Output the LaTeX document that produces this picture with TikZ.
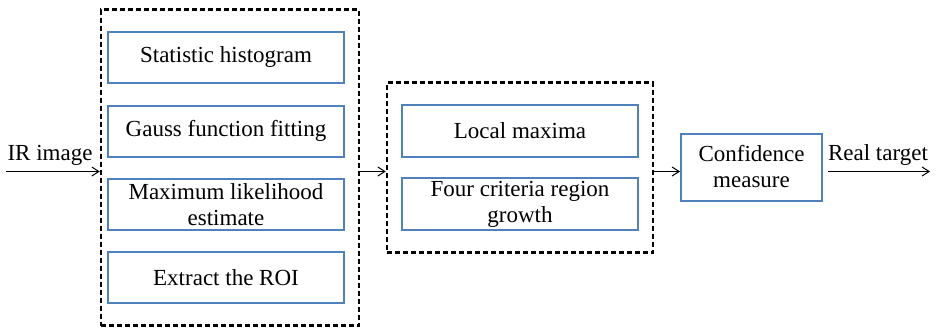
\documentclass[tikz,border=0pt]{standalone}
\usepackage{fontspec}
\setmainfont{Liberation Serif}
\newfontfamily\tms{Liberation Serif}
\usetikzlibrary{arrows.meta}
\definecolor{boxblue}{RGB}{79,129,189}
\begin{document}
\begin{tikzpicture}[x=1pt,y=-1pt,
  bluebox/.style={draw=boxblue,line width=2pt,minimum width=236pt,minimum height=51pt,inner sep=0pt,align=center,font=\tms\fontsize{23}{26}\selectfont},
  dashbox/.style={draw=black,line width=2.5pt,dash pattern=on 5pt off 3pt,inner sep=0pt},
  arr/.style={line width=1pt,-{Straight Barb[length=7pt,width=9pt,line width=1pt]}},
  lbl/.style={font=\tms\fontsize{23}{26}\selectfont,inner sep=0pt,anchor=base}]
\useasboundingbox (0,0) rectangle (937,327);
\node[dashbox,minimum width=258pt,minimum height=316pt] (ld) at (230,167.5) {};
\node[dashbox,minimum width=266pt,minimum height=170pt] (md) at (520,167.7) {};
\node[bluebox] (b1) at (226,57) {Statistic histogram};
\node[bluebox] (b2) at (226,131) {Gauss function fitting};
\node[bluebox] (b3) at (226,204.5) {Maximum likelihood\\estimate};
\node[bluebox] (b4) at (226,277.5) {Extract the ROI};
\node[bluebox,minimum height=52pt] (m1) at (520,131) {Local maxima};
\node[bluebox,minimum height=52pt] (m2) at (520,204) {Four criteria region\\growth};
\node[bluebox,minimum width=141pt,minimum height=67pt] (cf) at (751.5,167) {Confidence\\measure};
\coordinate (in) at (6,171.5);
\coordinate (out) at (930,171.5);
\coordinate (os) at (828,171.5);
\draw[arr] (in) -- (in -| ld.west);
\draw[arr] (in -| ld.east) -- (in -| md.west);
\draw[arr] (in -| md.east) -- (in -| cf.west);
\draw[arr] (os) -- (out);
\node[lbl] (irl) at (50,160) {IR image};
\node[lbl] (rtl) at (878,160) {Real target};
\end{tikzpicture}
\end{document}
